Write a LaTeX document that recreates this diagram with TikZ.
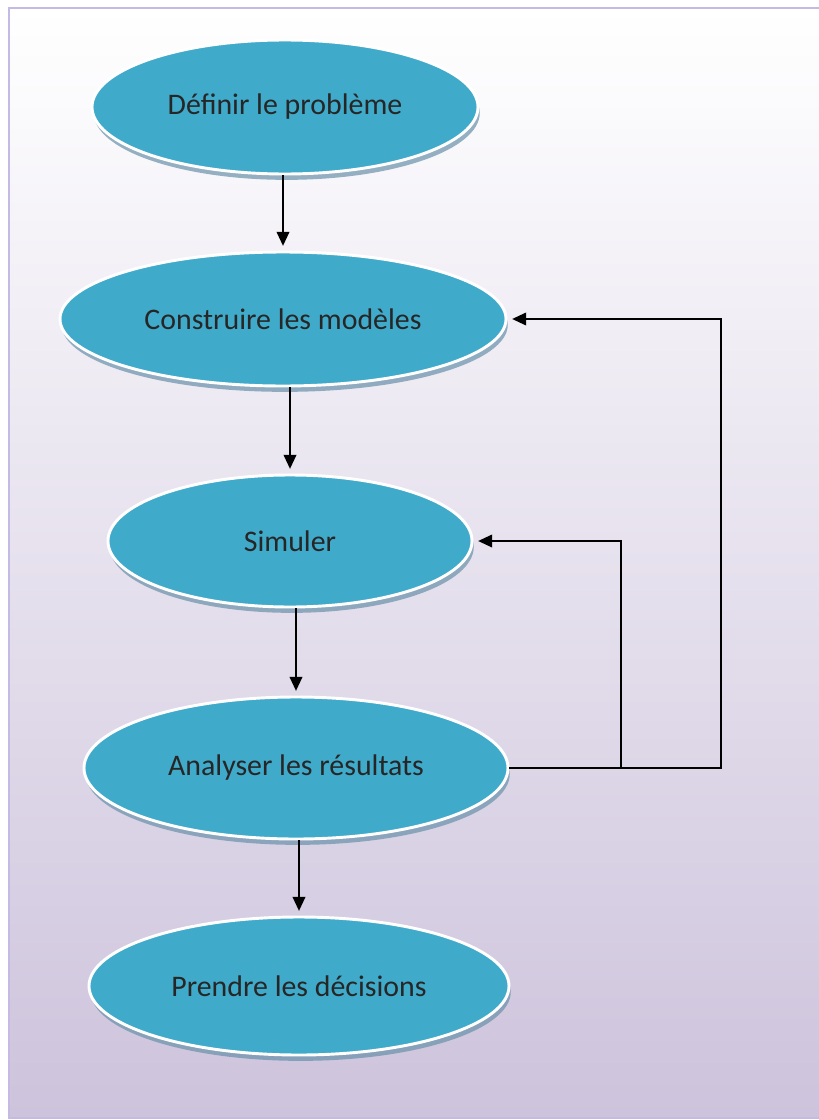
\documentclass[tikz,border=0pt]{standalone}
\usepackage{fontspec}
\setmainfont{Carlito}
\usetikzlibrary{shapes.geometric, shadows, arrows.meta}
\definecolor{bleuetape}{RGB}{64,170,203}
\definecolor{ombreetape}{RGB}{105,145,170}
\definecolor{fondviolet}{RGB}{205,195,220}
\definecolor{bordcadre}{RGB}{196,186,228}

\begin{document}
\begin{tikzpicture}[x=0.03cm, y=-0.03cm,
    etape/.style={ellipse, fill=bleuetape, draw=white, line width=2.5pt, inner sep=0pt,
        font=\fontsize{25.5}{30}\selectfont, text=black!85,
        drop shadow={shadow xshift=1.5pt, shadow yshift=-5pt, fill=ombreetape, opacity=0.7}},
    fleche/.style={->, >={Triangle[length=4.2mm, width=3.8mm]}, line width=1.4pt, shorten >=4pt}]

        \useasboundingbox (0,0) rectangle (819,1120);

        % Fond en dégradé et cadre
        \shade[top color=white, bottom color=fondviolet] (9,8) rectangle (835,1118);
        \draw[bordcadre, line width=1.2pt] (9,8) rectangle (835,1118);

        % Les étapes
        \node[etape, minimum width=11.58cm, minimum height=4.02cm] (definir) at (285,107) {Définir le problème};
        \node[etape, minimum width=13.38cm, minimum height=4.02cm] (construire) at (283,319) {Construire les modèles};
        \node[etape, minimum width=10.92cm, minimum height=3.96cm] (simuler) at (290,541) {Simuler};
        \node[etape, minimum width=12.72cm, minimum height=4.26cm] (analyser) at (296,768) {Analyser les résultats};
        \node[etape, minimum width=12.60cm, minimum height=4.14cm] (decider) at (299,986) {Prendre les décisions};

        % Flèches vers le bas
        \draw[fleche] (construire.north |- definir.south) -- (construire.north);
        \draw[fleche] (simuler.north |- construire.south) -- (simuler.north);
        \draw[fleche] (analyser.north |- simuler.south) -- (analyser.north);
        \draw[fleche] (decider.north |- analyser.south) -- (decider.north);

        % Boucles de retour
        \coordinate (retourA) at (721,768);
        \coordinate (retourB) at (621,768);
        \draw[fleche] (analyser.east) -- (retourA |- analyser.east) |- (construire.east);
        \draw[fleche] (retourB |- analyser.east) |- (simuler.east);

    \end{tikzpicture}
\end{document}
